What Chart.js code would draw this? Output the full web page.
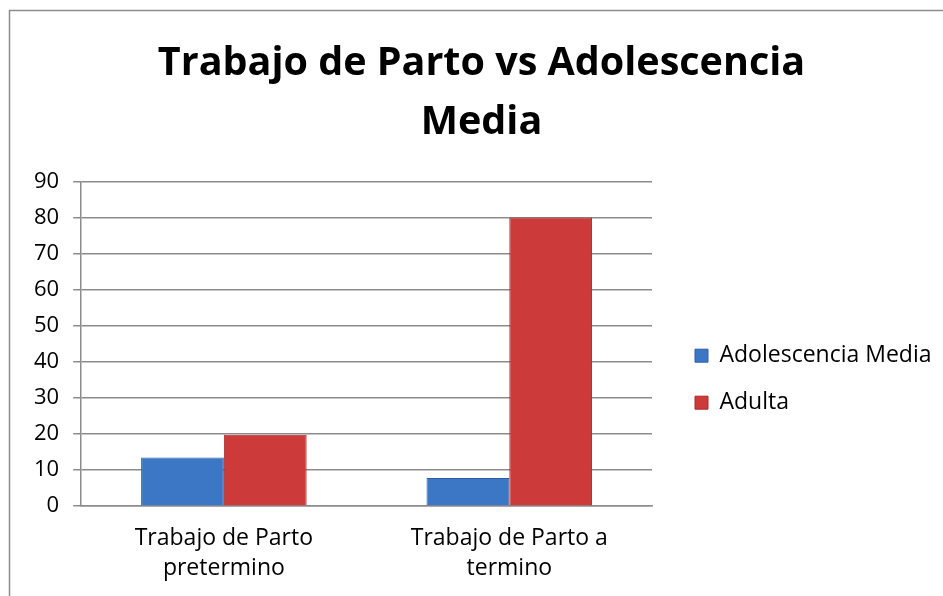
<!DOCTYPE html>
<html>
<head>
<meta charset="utf-8">
<script src="https://cdn.jsdelivr.net/npm/chart.js@4/dist/chart.umd.min.js"></script>
<style>
  html, body { margin: 0; padding: 0; background: #fff; }
  #wrap { position: relative; width: 943px; height: 596px; }
</style>
</head>
<body>
<div id="wrap"><canvas id="c" width="943" height="596"></canvas></div>
<script>
const categories = [["Trabajo de Parto", "pretermino"], ["Trabajo de Parto a", "termino"]];
const seriesNames = ["Adolescencia Media", "Adulta"];
const adolescenciaMedia = [13.5, 7.8];
const adulta = [19.8, 80];
const titleLines = ["Trabajo de Parto vs Adolescencia", "Media"];
const yMin = 0, yMax = 90, yStep = 10;

const LEGEND_WIDTH = 272;

const framePlugin = {
  id: 'frame',
  beforeLayout(chart) {
    const lg = chart.legend;
    if (lg && !lg._fixedWidth) {
      const origFit = lg.fit;
      lg.fit = function () {
        origFit.call(this);
        this.width = LEGEND_WIDTH;
      };
      lg._fixedWidth = true;
    }
  },
  beforeDraw(chart) {
    const ctx = chart.ctx;
    ctx.save();
    ctx.fillStyle = '#fff';
    ctx.fillRect(0, 0, chart.width, chart.height);
    ctx.strokeStyle = '#8c8c8c';
    ctx.lineWidth = 1.5;
    ctx.beginPath();
    ctx.moveTo(9.5, chart.height);
    ctx.lineTo(9.5, 10.5);
    ctx.lineTo(chart.width, 10.5);
    ctx.stroke();
    ctx.restore();
  }
};

new Chart(document.getElementById('c'), {
  type: 'bar',
  data: {
    labels: categories,
    datasets: [
      { label: seriesNames[0], data: adolescenciaMedia, backgroundColor: '#3c77c6', borderColor: '#2d5fa8', borderWidth: 1 },
      { label: seriesNames[1], data: adulta, backgroundColor: '#cc3b39', borderColor: '#a52d2b', borderWidth: 1 }
    ]
  },
  options: {
    responsive: false,
    animation: false,
    layout: { padding: { left: 20, right: 0, top: 34, bottom: -4 } },
    datasets: { bar: { categoryPercentage: 0.58, barPercentage: 1.0 } },
    plugins: {
      title: {
        display: true,
        text: titleLines,
        color: '#000',
        font: { family: 'Open Sans', size: 39.5, weight: 'bold', lineHeight: 1.5 },
        padding: { top: 0, bottom: 29 }
      },
      legend: {
        position: 'right',
        title: { display: true, text: '', font: { size: 12, lineHeight: 1.2 }, padding: { top: 110, bottom: 0 } },
        labels: {
          color: '#000',
          boxWidth: 13, boxHeight: 13,
          padding: 24,
          font: { family: 'Open Sans', size: 23 }
        }
      },
      tooltip: { enabled: false }
    },
    scales: {
      x: {
        grid: { display: false, drawTicks: false },
        border: { display: true, color: '#8c8c8c', width: 1.5 },
        ticks: { color: '#000', font: { family: 'Open Sans', size: 23, lineHeight: 1.3 }, maxRotation: 0, padding: 17 }
      },
      y: {
        min: yMin, max: yMax,
        ticks: { stepSize: yStep, color: '#000', font: { family: 'Open Sans', size: 22 }, padding: 14 },
        grid: { color: '#8c8c8c', lineWidth: 1.5, tickLength: 8 },
        border: { display: true, color: '#8c8c8c', width: 1.5 }
      },
      gap: {
        position: 'right',
        display: true,
        ticks: { display: false },
        grid: { display: false, drawTicks: false },
        border: { display: false },
        afterFit(scale) { scale.width = 19; }
      }
    }
  },
  plugins: [framePlugin]
});
</script>
</body>
</html>
